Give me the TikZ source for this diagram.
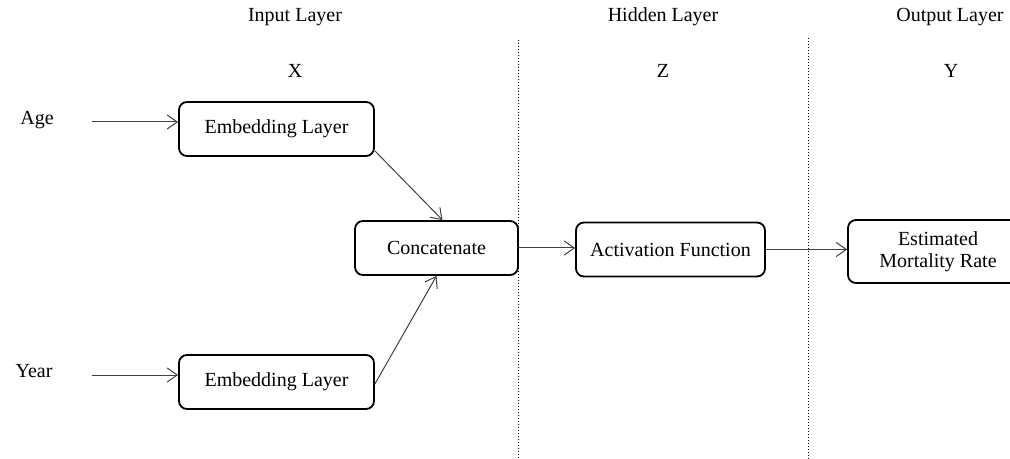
\documentclass[tikz,border=0pt]{standalone}
\usepackage{fontspec}
\setmainfont{Liberation Serif}
\usetikzlibrary{arrows.meta}
\tikzstyle{every picture}+=[remember picture]
\tikzset{
	layerbox/.style={draw, line width=0.9pt, rounded corners=4pt, minimum height=27pt, align=center, inner sep=2pt},
	feed/.style={draw=black!75, line width=0.5pt, -{Straight Barb[length=5pt,width=7pt]}},
	divider/.style={densely dotted, line width=0.5pt}
}

\begin{document}
\begin{tikzpicture}[x=0.5pt, y=-0.5pt, font=\fontsize{10pt}{11pt}\selectfont]
	\useasboundingbox (0,0) rectangle (1010,459);
	% headings
	\node (inhead) at (295,17) {Input Layer};
	\node (hidhead) at (663,17) {Hidden Layer};
	\node (outhead) at (950,17) {Output Layer};
	\node (xvar) at (295,71) {X};
	\node (zvar) at (663,71) {Z};
	\node (yvar) at (951,71) {Y};
	% separators
	\coordinate (sepA top) at (518,40);
	\coordinate (sepA bot) at (518,459);
	\coordinate (sepB top) at (808,38);
	\coordinate (sepB bot) at (808,459);
	\draw[divider] (sepA top) -- (sepA bot);
	\draw[divider] (sepB top) -- (sepB bot);
	% inputs
	\node (age) at (37,120) {Age};
	\node (year) at (34,371) {Year};
	\coordinate (age in) at (92,122);
	\coordinate (year in) at (92,375);
	% boxes
	\node[layerbox, minimum width=97.5pt] (embage) at (276.5,129) {Embedding Layer};
	\node[layerbox, minimum width=97.5pt] (embyear) at (276.5,382) {Embedding Layer};
	\node[layerbox, minimum width=81.5pt] (concat) at (436.5,248) {Concatenate};
	\node[layerbox, minimum width=94.5pt] (act) at (670.5,249.5) {Activation Function};
	\node[layerbox, minimum width=90pt, minimum height=31.5pt] (rate) at (938,251.5) {Estimated\\Mortality Rate};
	% connectors
	\draw[feed] (age in) -- (embage.west |- age in);
	\draw[feed] (year in) -- (embyear.west |- year in);
	\draw[feed] (embage.south east) ++(0,-6) -- ([xshift=3pt]concat.north);
	\draw[feed] (embyear.east) ++(0,2) -- (concat.south);
	\draw[feed] (concat.east) -- (act.west |- concat.east);
	\draw[feed] (act.east) -- (rate.west |- act.east);
\end{tikzpicture}
\end{document}
